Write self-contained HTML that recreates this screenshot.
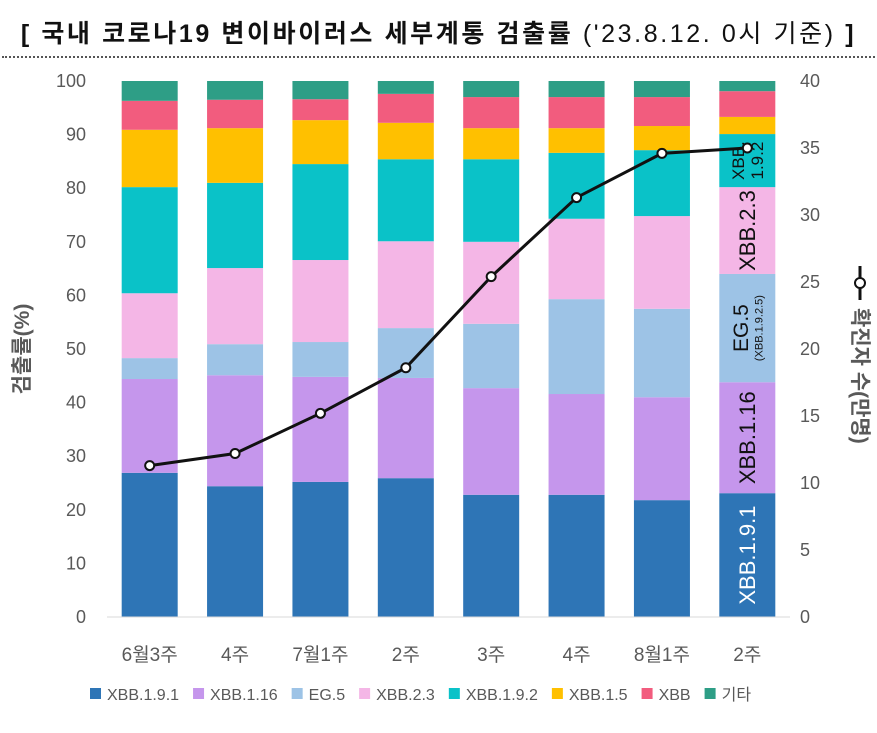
<!DOCTYPE html>
<html><head><meta charset="utf-8"><style>
body{margin:0;background:#fff;width:877px;height:733px;overflow:hidden;font-family:"Liberation Sans","Noto Sans CJK KR",sans-serif}
#title{position:absolute;left:0;top:14px;width:877px;text-align:center;font-size:25px;letter-spacing:2.6px;font-weight:bold;color:#111;white-space:nowrap}
#title span{font-weight:normal}
#rule{position:absolute;left:2px;top:56px;width:873px;border-top:2px dotted #555}
</style></head><body>
<div id="title">[ 국내 코로나19 변이바이러스 세부계통 검출률 <span>('23.8.12. 0시 기준)</span> ]</div>
<div id="rule"></div>
<svg id="chart" width="877" height="733" style="position:absolute;left:0;top:0" font-family="Liberation Sans, Noto Sans CJK KR, sans-serif"></svg>
<script>
const categories=["6월3주","4주","7월1주","2주","3주","4주","8월1주","2주"];
const seriesNames=["XBB.1.9.1","XBB.1.16","EG.5","XBB.2.3","XBB.1.9.2","XBB.1.5","XBB","기타"];
const colors=["#2e75b6","#c596ec","#9dc3e6","#f4b6e6","#0ac2c8","#ffc000","#f25c7e","#2e9e86"];
const s_xbb191=[26.9,24.4,25.2,25.9,22.8,22.8,21.8,23.1];
const s_xbb116=[17.5,20.7,19.6,18.7,19.9,18.8,19.2,20.7];
const s_eg5=[3.9,5.8,6.5,9.3,12.0,17.7,16.5,20.2];
const s_xbb23=[12.1,14.2,15.3,16.2,15.3,15.0,17.3,16.2];
const s_xbb192=[19.8,15.9,17.9,15.3,15.4,12.3,12.3,9.9];
const s_xbb15=[10.7,10.2,8.2,6.8,5.8,4.6,4.5,3.2];
const s_xbb=[5.4,5.3,3.9,5.4,5.8,5.8,5.4,4.8];
const s_etc=[3.7,3.5,3.4,2.4,3.0,3.0,3.0,1.9];
const confirmed=[11.3,12.2,15.2,18.6,25.4,31.3,34.6,35.0];
const leftTicks=[0,10,20,30,40,50,60,70,80,90,100];
const rightTicks=[0,5,10,15,20,25,30,35,40];
const series=[s_xbb191,s_xbb116,s_eg5,s_xbb23,s_xbb192,s_xbb15,s_xbb,s_etc];
const svg=document.getElementById('chart');const NS="http://www.w3.org/2000/svg";
const X0=107,X1=790,Y0=617,Y1=81;
const yL=v=>Y0-(v/100)*(Y0-Y1);
const yR=v=>Y0-(v/40)*(Y0-Y1);
const band=(X1-X0)/categories.length;
const xC=i=>X0+band*(i+0.5);
const BW=56;
function el(t,a,p){const e=document.createElementNS(NS,t);for(const k in a)e.setAttribute(k,a[k]);(p||svg).appendChild(e);return e;}
leftTicks.forEach(v=>{const t=el('text',{x:86,y:yL(v)+6,'text-anchor':'end','font-size':18,fill:'#595959'});t.textContent=v;

});
rightTicks.forEach(v=>{const t=el('text',{x:800,y:yR(v)+6,'font-size':18,fill:'#595959'});t.textContent=v;

});
categories.forEach((c,i)=>{let base=0;series.forEach((s,k)=>{const r=el('rect',{x:xC(i)-BW/2,y:yL(base+s[i]),width:BW,height:yL(base)-yL(base+s[i]),fill:colors[k]});

base+=s[i];});
const t=el('text',{x:xC(i),y:661,'text-anchor':'middle','font-size':19,fill:'#595959'});t.textContent=c;

});
el('line',{x1:X0,x2:X1,y1:Y0,y2:Y0,stroke:'#d9d9d9'});
const li=7;let acc=[];let b=0;series.forEach(s=>{acc.push([b,b+s[li]]);b+=s[li];});
function rl(txt,k,col,fs,dy){const m=(acc[k][0]+acc[k][1])/2;const t=el('text',{x:0,y:0,'text-anchor':'middle','font-size':fs,fill:col,transform:`translate(${xC(li)+(dy||0)},${yL(m)}) rotate(-90)`,'dominant-baseline':'central'});t.textContent=txt;

}
rl("XBB.1.9.1",0,'#fff',22);rl("XBB.1.16",1,'#111',22);rl("EG.5",2,'#111',21,-6);rl("(XBB.1.9.2.5)",2,'#111',11,12);rl("XBB.2.3",3,'#111',22);rl("XBB.",4,'#111',17,-9);rl("1.9.2",4,'#111',17,10);
const pts=confirmed.map((v,i)=>xC(i)+','+yR(v)).join(' ');
const pl=el('polyline',{points:pts,fill:'none',stroke:'#111','stroke-width':3});


confirmed.forEach((v,i)=>{const c=el('circle',{cx:xC(i),cy:yR(v),r:4.5,fill:'#fff',stroke:'#111','stroke-width':2});

});
const lt=el('text',{x:0,y:0,'text-anchor':'middle','font-size':21,'font-weight':'bold',fill:'#595959',transform:'translate(29,349) rotate(-90)'});lt.textContent="검출률(%)";


const g=el('g',{transform:'translate(858,390) rotate(90)'});


el('line',{x1:-124,x2:-90,y1:-2,y2:-2,stroke:'#111','stroke-width':3},g);
el('circle',{cx:-107,cy:-2,r:5,fill:'#fff',stroke:'#111','stroke-width':2},g);
const rt=el('text',{x:-82,y:5,'font-size':21,'font-weight':'bold',fill:'#595959'},g);rt.textContent="확진자 수(만명)";
let lx=90;seriesNames.forEach((n,k)=>{const r=el('rect',{x:lx,y:688,width:11,height:11,fill:colors[k]});


const t=el('text',{x:lx+17,y:700,'font-size':16,fill:'#595959'});t.textContent=n;


lx+=17+t.getComputedTextLength()+14;});
</script></body></html>
